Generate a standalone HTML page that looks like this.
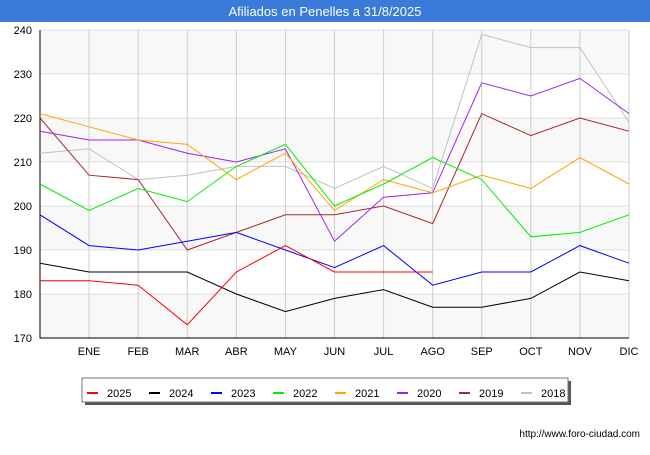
<!DOCTYPE html>
<html><head><meta charset="utf-8"><style>
body{margin:0;background:#fff;font-family:"Liberation Sans",sans-serif}
#wrap{position:relative;width:650px;height:450px}
</style></head><body>
<div id="wrap">
<svg id="svg" width="650" height="450" xmlns="http://www.w3.org/2000/svg" font-family="Liberation Sans, DejaVu Sans, sans-serif">
<rect x="0" y="0" width="650" height="22" fill="#3a7ad9"/>
<text x="325" y="16" text-anchor="middle" fill="#fff" font-size="13">Afiliados en Penelles a 31/8/2025</text>
<g id="plot"></g>
<text x="640" y="437" text-anchor="end" font-size="10" fill="#000">http://www.foro-ciudad.com</text>
</svg>
</div>
<script>
const months=["","ENE","FEB","MAR","ABR","MAY","JUN","JUL","AGO","SEP","OCT","NOV","DIC"];
const yTicks=[170,180,190,200,210,220,230,240];
const years=["2025","2024","2023","2022","2021","2020","2019","2018"];
const colors=["#ff0000","#000000","#0000ff","#00ee00","#ffa500","#a020f0","#a52a2a","#c0c0c0"];
const s2025=[183,183,182,173,185,191,185,185,185];
const s2024=[187,185,185,185,180,176,179,181,177,177,179,185,183];
const s2023=[198,191,190,192,194,190,186,191,182,185,185,191,187];
const s2022=[205,199,204,201,209,214,200,205,211,206,193,194,198];
const s2021=[221,218,215,214,206,212,199,206,203,207,204,211,205];
const s2020=[217,215,215,212,210,213,192,202,203,228,225,229,221];
const s2019=[220,207,206,190,194,198,198,200,196,221,216,220,217];
const s2018=[212,213,206,207,209,209,204,209,204,239,236,236,219];
const series=[s2025,s2024,s2023,s2022,s2021,s2020,s2019,s2018];
const NS="http://www.w3.org/2000/svg";
const L=40,R=629,T=30,B=338;
const x=i=>L+(R-L)*i/12;
const y=v=>B-(v-170)*(B-T)/70;
const g=document.getElementById('plot');
function mk(t,a){const e=document.createElementNS(NS,t);for(const k in a)e.setAttribute(k,a[k]);g.appendChild(e);return e;}
let bg=mk('rect',{x:L,y:T,width:R-L,height:B-T,fill:'#ffffff'});


for(let i=0;i<yTicks.length-1;i++){if(i%2===0){let b=mk('rect',{x:L,y:y(yTicks[i+1]),width:R-L,height:y(yTicks[i])-y(yTicks[i+1]),fill:'#f8f8f8'});

}}
yTicks.forEach(v=>{let l=mk('line',{x1:L,x2:R,y1:y(v),y2:y(v),stroke:'#dddddd'});


let t=mk('text',{x:L-8,y:y(v)+4,'text-anchor':'end','font-size':11});t.textContent=v;

});
months.forEach((m,i)=>{if(i===0)return;let l=mk('line',{x1:x(i),x2:x(i),y1:T,y2:B,stroke:'#cccccc'});


let t=mk('text',{x:x(i),y:B+17,'text-anchor':'middle','font-size':11});t.textContent=m;

});
let ax=mk('path',{d:`M${L},${T}V${B}H${R}`,fill:'none',stroke:'#000'});


for(let k=series.length-1;k>=0;k--){const p=series[k].map((v,i)=>x(i)+','+y(v)).join(' ');
let pl=mk('polyline',{points:p,fill:'none',stroke:colors[k],'stroke-width':1});

}
let sh=mk('rect',{x:85,y:381,width:486,height:24,fill:'#555'});


let lb=mk('rect',{x:82,y:378,width:486,height:24,fill:'#fff',stroke:'#777'});


years.forEach((yr,k)=>{const lx=87+k*62;
let s=mk('line',{x1:lx,x2:lx+11,y1:393,y2:393,stroke:colors[k],'stroke-width':2});


let t=mk('text',{x:lx+20,y:397,'font-size':11});t.textContent=yr;

});
</script>
</body></html>
